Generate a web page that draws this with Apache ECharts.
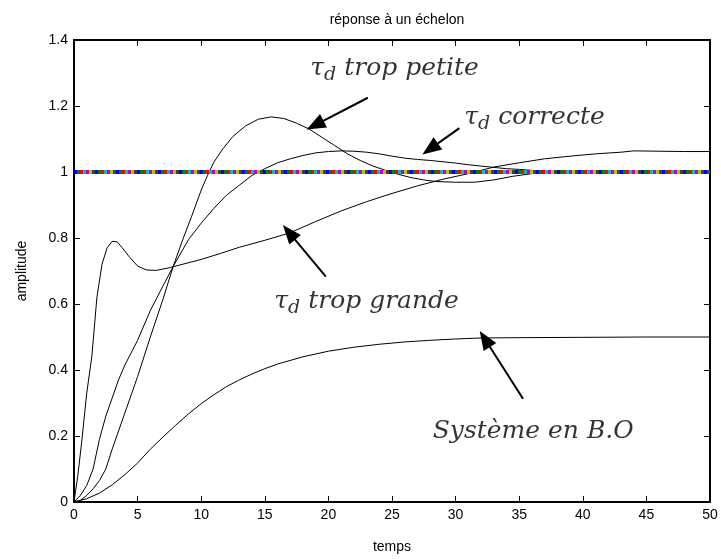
<!DOCTYPE html>
<html>
<head>
<meta charset="utf-8">
<script src="https://cdn.jsdelivr.net/npm/echarts@6/dist/echarts.min.js"></script>
<style>html,body{margin:0;padding:0;background:#fff}#c{width:721px;height:559px}</style>
</head>
<body>
<div id="c"></div>
<script>
// ---- data ----
var xTicks = [0, 5, 10, 15, 20, 25, 30, 35, 40, 45, 50];
var yTicks = [0, 0.2, 0.4, 0.6, 0.8, 1, 1.2, 1.4];

// open loop (Système en B.O)
var boT = [0,1,2,3,4,5,6,7,8,9,10,11,12,13,14,15,16,18,20,22,24,26,28,30,32,35,40,45,50];
var boV = [0,0.01,0.027,0.052,0.083,0.118,0.16,0.197,0.233,0.267,0.298,0.325,0.35,0.37,0.388,0.404,0.418,0.44,0.457,0.469,0.478,0.485,0.49,0.494,0.497,0.498,0.499,0.5,0.5];

// tau_d trop grande
var tgT = [0,0.3,0.6,1,1.4,1.8,2.2,2.6,3,3.4,3.8,4.3,5,5.7,6.5,7.5,8.5,10,11.5,13,15,17,19,21,23,25,27,29,31,33,35,37,39,41,43,44,46,48,50];
var tgV = [0,0.08,0.18,0.33,0.44,0.62,0.72,0.77,0.79,0.788,0.77,0.745,0.715,0.703,0.702,0.71,0.72,0.735,0.753,0.772,0.793,0.816,0.85,0.882,0.91,0.935,0.958,0.978,0.995,1.015,1.028,1.04,1.048,1.055,1.06,1.064,1.063,1.062,1.062];

// tau_d correcte
var coT = [0,0.5,1,1.5,2,2.5,3,3.5,4,5,6,7,7.8,9,10,11,12,13,14,15,16,17,18,19,20,21,22,23,24,25,26,27,28,29,30,31,32,33,34,35,36,37,38,40,50];
var coV = [0,0.02,0.05,0.1,0.19,0.26,0.315,0.37,0.415,0.49,0.58,0.655,0.714,0.795,0.845,0.89,0.93,0.96,0.99,1.01,1.028,1.04,1.05,1.058,1.062,1.064,1.063,1.06,1.055,1.048,1.042,1.038,1.035,1.031,1.027,1.022,1.018,1.014,1.01,1.008,1.005,1.003,1.001,1.0,1.0];

// tau_d trop petite
var tpT = [0,0.5,1,1.5,2,2.5,3,3.5,4,5,6,7,7.8,8.5,9.25,10,10.5,11,11.7,12.5,13.5,14.5,15.5,16.5,17.5,18.5,19.5,20.5,21.5,22.5,23.5,24.5,25.5,26.5,27.5,28.5,30,31.5,33,34.5,36,38,40,50];
var tpV = [0,0.005,0.02,0.04,0.065,0.1,0.16,0.215,0.27,0.38,0.5,0.615,0.714,0.79,0.866,0.945,0.99,1.03,1.07,1.108,1.14,1.16,1.167,1.162,1.148,1.13,1.105,1.08,1.055,1.035,1.018,1.005,0.993,0.983,0.976,0.971,0.969,0.969,0.976,0.987,0.995,1.0,1.0,1.0];

// set-point line (value 1)
var refT = [0, 50];
var refV = [1, 1];
var refColors = ['#0000ff', '#008000', '#ff0000', '#00bfbf', '#bf00bf', '#bfbf00', '#404040'];

// annotations: label anchor (t, amplitude) and arrows [from, to]
var annLabels = ['{m|τ}{s|d}{m| trop petite}', '{m|τ}{s|d}{m| correcte}', '{m|τ}{s|d}{m| trop grande}', '{m|Système en B.O}'];
var annX = [25.2, 36.2, 23.0, 36.1];
var annY = [1.314, 1.165, 0.608, 0.215];
var arrFromX = [23.1, 30.3, 19.8, 35.3];
var arrFromY = [1.225, 1.133, 0.683, 0.313];
var arrToX = [18.95, 28.0, 16.9, 32.3];
var arrToY = [1.142, 1.07, 0.817, 0.494];

function zip(a, b) { return a.map(function (v, i) { return [v, b[i]]; }); }

var chart = echarts.init(document.getElementById('c'), null, {renderer: 'canvas'});
var sansFont = 'Liberation Sans, Arial, sans-serif';
var mathFont = 'DejaVu Serif';

var series = [];
[[boT, boV], [tgT, tgV], [coT, coV], [tpT, tpV]].forEach(function (d) {
  series.push({
    type: 'line', data: zip(d[0], d[1]), showSymbol: false, symbol: 'none', silent: true,
    lineStyle: {color: '#000', width: 1}, z: 3
  });
});
refColors.forEach(function (col, i) {
  series.push({
    type: 'line', data: zip(refT, refV), showSymbol: false, symbol: 'none', silent: true,
    lineStyle: {color: col, width: 4, type: [3, 18], dashOffset: -3 * i, cap: 'butt'},
    z: 4
  });
});

var markData = arrFromX.map(function (v, i) {
  return [{coord: [arrFromX[i], arrFromY[i]], symbol: 'none'},
          {coord: [arrToX[i], arrToY[i]], symbol: 'triangle', symbolSize: [15, 19]}];
});

series.push({
  type: 'scatter', symbolSize: 0, silent: true, z: 6,
  data: annX.map(function (v, i) { return {value: [annX[i], annY[i]], label: {formatter: annLabels[i]}}; }),
  label: {
    show: true, position: 'inside', align: 'center', verticalAlign: 'middle', color: '#000',
    rich: {
      m: {fontFamily: mathFont, fontStyle: 'italic', fontSize: 25, lineHeight: 33, color: '#000'},
      s: {fontFamily: mathFont, fontStyle: 'italic', fontSize: 19, verticalAlign: 'bottom', color: '#000'}
    }
  },
  markLine: {
    silent: true, animation: false,
    label: {show: false},
    lineStyle: {color: '#000', width: 2, type: 'solid'},
    emphasis: {disabled: true},
    data: markData
  }
});

var tickStyle = {show: true, inside: true, length: 6, lineStyle: {color: '#000', width: 1}};
var axisLineStyle = {show: true, onZero: false, lineStyle: {color: '#000', width: 2}};

chart.setOption({
  animation: false,
  backgroundColor: '#fff',
  title: {
    text: 'réponse à un échelon', left: 392, top: 8, textAlign: 'center',
    textStyle: {fontFamily: sansFont, fontSize: 14, fontWeight: 'normal', color: '#000'}
  },
  grid: {left: 74, right: 11, top: 40, bottom: 50, containLabel: false},
  xAxis: [{
    type: 'value', min: 0, max: 50, interval: 5, position: 'bottom',
    axisLine: axisLineStyle, axisTick: tickStyle, splitLine: {show: false},
    axisLabel: {color: '#000', fontFamily: sansFont, fontSize: 14, margin: 6,
      formatter: function (v) { return xTicks.indexOf(v) >= 0 ? String(v) : ''; }},
    name: 'temps', nameLocation: 'middle', nameGap: 38,
    nameTextStyle: {color: '#000', fontFamily: sansFont, fontSize: 14}
  }, {
    type: 'value', min: 0, max: 50, interval: 5, position: 'top',
    axisLine: axisLineStyle, axisTick: tickStyle, splitLine: {show: false}, axisLabel: {show: false}
  }],
  yAxis: [{
    type: 'value', min: 0, max: 1.4, interval: 0.2, position: 'left',
    axisLine: axisLineStyle, axisTick: tickStyle, splitLine: {show: false},
    axisLabel: {color: '#000', fontFamily: sansFont, fontSize: 14, margin: 6,
      formatter: function (v) { var r = Math.round(v * 10) / 10; return yTicks.indexOf(r) >= 0 ? String(r) : ''; }},
    name: 'amplitude', nameLocation: 'middle', nameGap: 45, nameRotate: 90,
    nameTextStyle: {color: '#000', fontFamily: sansFont, fontSize: 14}
  }, {
    type: 'value', min: 0, max: 1.4, interval: 0.2, position: 'right',
    axisLine: axisLineStyle, axisTick: tickStyle, splitLine: {show: false}, axisLabel: {show: false}
  }],
  series: series
});
</script>
</body>
</html>
